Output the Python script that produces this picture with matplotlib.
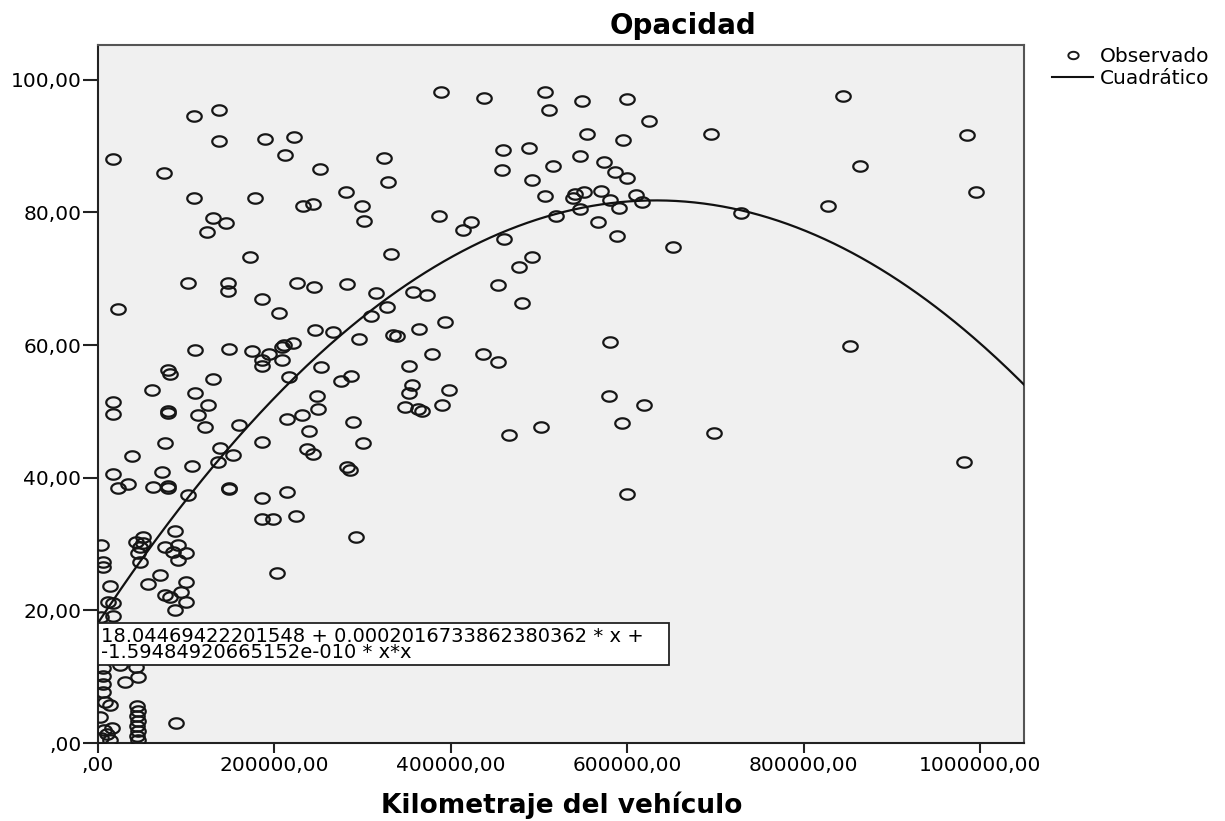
import numpy as np
import matplotlib
matplotlib.use("Agg")
import matplotlib.pyplot as plt
from matplotlib.path import Path
from matplotlib.patches import Rectangle
from matplotlib.lines import Line2D

# Observaciones: kilometraje del vehículo (km) y opacidad (%)
kilometraje = [
    17000, 75500, 109500, 137800, 137800, 189600, 222400, 212600, 252200, 324800,
    328900, 109500, 178200, 232600, 244000, 281000, 299100, 302100, 130300, 145000,
    123500, 172600, 332300, 102700, 147300, 147300, 225500, 245100, 282100, 315300,
    327500, 309300, 186500, 205800, 23300, 246600, 267000, 296400, 334900, 338800,
    110300, 149100, 174500, 194400, 208800, 210500, 221000, 186500, 185800, 208500,
    80000, 81900, 131000, 253000, 217100, 275300, 286700, 61900, 110300, 17700,
    17000, 80000, 80000, 125300, 114000, 121600, 248100, 250000, 231200, 214800,
    160100, 289600, 239400, 76300, 185800, 301000, 138600, 153600, 236800, 243600,
    39200, 107200, 136700, 282100, 285900, 17700, 72500, 23300, 34000, 62300,
    80000, 80000, 148800, 148800, 102700, 185800, 214800,
    185800, 199000, 224700, 292700, 203500, 87200, 51300, 43700, 51300, 47600,
    45700, 47600, 75900, 85300, 91000, 100400, 91000, 70300, 57000, 99700,
    94700, 75900, 81600, 100400, 87200, 4100, 6000, 6000, 13600, 11700,
    17300, 17300, 4100, 24900, 43700, 45700, 30600, 89100,
    6000, 6000, 6000, 6000, 8300, 13900, 2600, 16200, 7100, 10500, 13900, 3700,
    45000, 46000, 45000, 46000, 45000, 46000, 45000, 46000,
    388700, 438100, 506800, 511700, 549100, 600100, 625000, 694600, 554800, 594900,
    458900, 488400, 546500, 573700, 586200, 599400, 458500, 516200, 492400, 506800,
    540800, 538900, 551000, 569900, 580500, 609400, 616400, 546500, 590400, 519600,
    566600, 588400, 651500, 728900, 387100, 423000, 414300, 460400, 491800, 477700,
    453900,
    357600, 372800, 480400, 393500, 364400, 378500, 353100, 436900, 453900, 355800,
    353100, 398400, 348200, 363300, 367100, 389800, 466400, 502000, 580500, 579400,
    619000, 593800, 698700, 600100,
    844800, 984700, 863800, 995200, 827200, 852400, 982000,
]
opacidad = [
    88.0, 86.0, 94.5, 95.5, 90.8, 91.1, 91.3, 88.6, 86.6, 88.2,
    84.5, 82.1, 82.2, 80.9, 81.3, 83.0, 81.0, 78.7, 79.2, 78.4,
    77.1, 73.3, 73.7, 69.3, 69.4, 68.2, 69.4, 68.8, 69.2, 67.8,
    65.8, 64.4, 67.0, 64.9, 65.4, 62.2, 61.9, 60.9, 61.5, 61.3,
    59.2, 59.4, 59.1, 58.6, 59.7, 60.0, 60.3, 57.8, 56.8, 57.8,
    56.3, 55.6, 54.9, 56.7, 55.2, 54.5, 55.3, 53.2, 52.8, 51.4,
    49.6, 50.1, 49.8, 50.9, 49.4, 47.7, 52.3, 50.3, 49.4, 48.8,
    47.9, 48.4, 47.1, 45.2, 45.4, 45.3, 44.5, 43.4, 44.3, 43.5,
    43.3, 41.8, 42.3, 41.6, 41.2, 40.6, 40.9, 38.5, 39.0, 38.6,
    38.8, 38.5, 38.5, 38.3, 37.4, 36.9, 37.9,
    33.8, 33.7, 34.2, 31.0, 25.7, 31.9, 31.1, 30.3, 30.1, 29.6,
    28.6, 27.3, 29.6, 28.8, 29.9, 28.6, 27.6, 25.3, 24.0, 24.3,
    22.8, 22.3, 22.0, 21.2, 20.1, 29.9, 27.3, 26.6, 23.7, 21.3,
    21.1, 19.1, 19.0, 11.8, 11.5, 10.0, 9.2, 3.0,
    11.3, 10.1, 8.9, 7.7, 6.2, 5.7, 3.9, 2.3, 2.0, 1.4, 0.5, 0.8,
    5.6, 4.8, 4.1, 3.3, 2.6, 1.8, 1.0, 0.4,
    98.2, 97.2, 98.2, 95.4, 96.8, 97.1, 93.8, 91.8, 91.8, 90.9,
    89.4, 89.7, 88.5, 87.6, 86.1, 85.2, 86.4, 87.0, 84.9, 82.4,
    82.8, 82.1, 83.0, 83.2, 81.8, 82.6, 81.6, 80.5, 80.7, 79.4,
    78.5, 76.5, 74.8, 79.9, 79.4, 78.6, 77.3, 76.0, 73.2, 71.7,
    69.0,
    68.0, 67.5, 66.4, 63.4, 62.4, 58.6, 56.8, 58.6, 57.5, 54.0,
    52.8, 53.2, 50.7, 50.3, 50.1, 51.0, 46.4, 47.7, 60.5, 52.3,
    51.0, 48.3, 46.8, 37.5,
    97.6, 91.7, 87.0, 83.0, 81.0, 59.9, 42.3,
]

# Modelo cuadrático ajustado
b0 = 18.04469422201548
b1 = 0.0002016733862380362
b2 = -1.59484920665152e-010
ecuacion = [
    "18.04469422201548 + 0.0002016733862380362 * x +",
    "-1.59484920665152e-010 * x*x",
]

x_ticks = [0, 200000, 400000, 600000, 800000, 1000000]
x_labels = [",00", "200000,00", "400000,00", "600000,00", "800000,00", "1000000,00"]
y_ticks = [0, 20, 40, 60, 80, 100]
y_labels = [",00", "20,00", "40,00", "60,00", "80,00", "100,00"]

plt.rcParams["font.family"] = "DejaVu Sans"

# circulo algo achatado para los puntos
t = np.linspace(0, 2 * np.pi, 60)
elipse = Path(np.column_stack([np.cos(t), 0.72 * np.sin(t)]), closed=True)

fig = plt.figure(figsize=(12.25, 8.21), dpi=100)
ax = fig.add_axes([0.0798, 0.0950, 0.7564, 0.8502])
ax.set_facecolor("#f0f0f0")

ax.plot(kilometraje, opacidad, linestyle="none", marker=elipse, markersize=10.4,
        markerfacecolor="none", markeredgecolor="#161616", markeredgewidth=1.6, zorder=3)

xs = np.linspace(0, 1050000, 400)
ax.plot(xs, b0 + b1 * xs + b2 * xs ** 2, color="#111111", linewidth=1.6, zorder=4)

ax.set_xlim(0, 1050000)
ax.set_ylim(0, 105.23)
ax.set_xticks(x_ticks)
ax.set_xticklabels(x_labels)
ax.set_yticks(y_ticks)
ax.set_yticklabels(y_labels)
ax.tick_params(axis="y", length=10.8, width=1.5, pad=1, labelsize=14.5, color="#222222")
ax.tick_params(axis="x", length=7, width=1.5, pad=2, labelsize=14.5, color="#222222")
for side in ["left", "bottom"]:
    ax.spines[side].set_color("#222222")
    ax.spines[side].set_linewidth(1.5)
for side in ["top", "right"]:
    ax.spines[side].set_color("#555555")
    ax.spines[side].set_linewidth(1.5)

# recuadro con la ecuacion del modelo
ax.add_patch(Rectangle((0, 0.1117), 0.617, 0.0598, transform=ax.transAxes,
                       facecolor="white", edgecolor="#222222", linewidth=1.3, zorder=5))
ax.text(0.0036, 0.1451, ecuacion[0], transform=ax.transAxes, va="baseline",
        fontsize=14, zorder=6)
ax.text(0.0036, 0.1213, ecuacion[1], transform=ax.transAxes, va="baseline",
        fontsize=14, zorder=6)

fig.text(0.5576, 0.9586, "Opacidad", ha="center", va="baseline",
         fontsize=20, fontweight="bold")
fig.text(0.4584, 0.0097, "Kilometraje del vehículo", ha="center", va="baseline",
         fontsize=19, fontweight="bold")

handles = [
    Line2D([], [], linestyle="none", marker=elipse, markersize=7.4,
           markerfacecolor="none", markeredgecolor="#1a1a1a", markeredgewidth=1.4),
    Line2D([], [], color="#111111", linewidth=1.5),
]
fig.legend(handles, ["Observado", "Cuadrático"], loc="upper left",
           bbox_to_anchor=(1052 / 1225, 1 - 47 / 821), frameon=False, fontsize=14.5,
           handlelength=2.05, handletextpad=0.35, labelspacing=0.15,
           borderpad=0, borderaxespad=0)

fig.savefig("out.png", dpi=100)
plt.close(fig)
